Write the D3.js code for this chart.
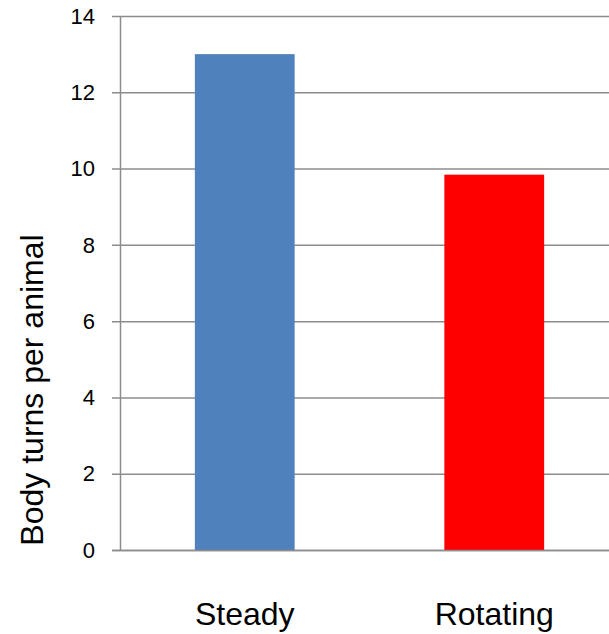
<!DOCTYPE html>
<html>
<head>
<meta charset="utf-8">
<script src="https://cdn.jsdelivr.net/npm/d3@7"></script>
<style>
  body { margin: 0; background: #fff; }
  text { font-family: "Liberation Sans", Arial, sans-serif; fill: #000; }
</style>
</head>
<body>
<script>
// chart values
var categories = ["Steady", "Rotating"];
var values = [13.0, 9.84];
var barColors = ["#4F81BD", "#FF0000"];
var yTicks = [0, 2, 4, 6, 8, 10, 12, 14];
var yLabel = "Body turns per animal";

var width = 609,
	height = 634;

var margin = {top: 16, right: -10, bottom: 84, left: 120};

var svg = d3.select("body").append("svg")
	.attr("width", width)
	.attr("height", height);

var xScale = d3.scaleBand()
	.domain(categories)
	.range([margin.left, width - margin.right])
	.paddingInner(0.6)
	.paddingOuter(0.3);

var yScale = d3.scaleLinear()
	.domain([0, 14])
	.range([height - margin.bottom, margin.top]);

// gridlines
svg.append("g")
	.selectAll("line")
	.data(yTicks)
	.enter()
	.append("line")
		.attr("x1", margin.left - 8)
		.attr("x2", width)
		.attr("y1", function(d){ return yScale(d) + 0.5; })
		.attr("y2", function(d){ return yScale(d) + 0.5; })
		.attr("stroke", "#8c8c8c")
		.attr("stroke-width", 1.5);

// y axis line
svg.append("line")
	.attr("x1", margin.left + 0.5)
	.attr("x2", margin.left + 0.5)
	.attr("y1", yScale(14))
	.attr("y2", yScale(0))
	.attr("stroke", "#8c8c8c")
	.attr("stroke-width", 1.5);

// bars
svg.selectAll(".bar")
	.data(values)
	.enter()
	.append("rect")
		.attr("class", "bar")
		.attr("x", function(d, i){ return xScale(categories[i]); })
		.attr("y", function(d){ return yScale(d); })
		.attr("width", xScale.bandwidth())
		.attr("height", function(d){ return yScale(0) - yScale(d); })
		.attr("fill", function(d, i){ return barColors[i]; });

// redraw baseline over bars
svg.append("line")
	.attr("x1", margin.left - 8)
	.attr("x2", width)
	.attr("y1", yScale(0) + 0.5)
	.attr("y2", yScale(0) + 0.5)
	.attr("stroke", "#8c8c8c")
	.attr("stroke-width", 1.5);

// y tick labels
svg.append("g")
	.selectAll("text")
	.data(yTicks)
	.enter()
	.append("text")
		.attr("x", 95)
		.attr("y", function(d){ return yScale(d); })
		.attr("dy", "0.35em")
		.attr("text-anchor", "end")
		.style("font-size", "22px")
		.text(function(d){ return d; });

// category labels
svg.append("g")
	.selectAll("text")
	.data(categories)
	.enter()
	.append("text")
		.attr("x", function(d){ return xScale(d) + xScale.bandwidth() / 2; })
		.attr("y", 625)
		.attr("text-anchor", "middle")
		.style("font-size", "32px")
		.text(function(d){ return d; });

// y axis title
svg.append("text")
	.attr("transform", "translate(43," + 390 + ") rotate(-90)")
	.attr("text-anchor", "middle")
	.style("font-size", "32px")
	.text(yLabel);
</script>
</body>
</html>
